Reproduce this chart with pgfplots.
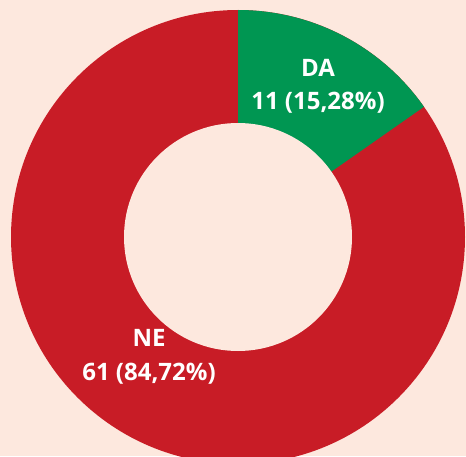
\documentclass[border=0pt]{standalone}
\usepackage{pgfplots}
\pgfplotsset{compat=1.18}
\usepackage{pgfplotstable}
\usepackage{fontspec}
\setmainfont{Open Sans}

\definecolor{bgpeach}{HTML}{FDE8DE}
\definecolor{nered}{HTML}{C81C26}
\definecolor{dagreen}{HTML}{009652}

% answers: label, count
\pgfplotstableread[col sep=comma]{
label,value
DA,11
NE,61
}\votes

\begin{document}
\begin{tikzpicture}
\pgfplotstablegetelem{0}{value}\of\votes \let\vda\pgfplotsretval
\pgfplotstablegetelem{1}{value}\of\votes \let\vne\pgfplotsretval
\pgfmathsetmacro{\tot}{\vda+\vne}
\pgfmathsetmacro{\aend}{90-360*\vda/\tot}
\begin{axis}[
  x=1pt, y=1pt,
  xmin=0, xmax=466, ymin=0, ymax=456,
  hide axis, clip=true,
]
\def\cx{238}\def\cy{219}\def\Ro{227}\def\Ri{114}
\fill[bgpeach] (axis cs:0,0) rectangle (axis cs:466,456);
\fill[nered] (axis cs:\cx,\cy) circle[radius=\Ro pt];
\fill[dagreen] (axis cs:\cx,\cy) -- ++(90:\Ro pt)
  arc[start angle=90, end angle=\aend, radius=\Ro pt] -- cycle;
\fill[bgpeach] (axis cs:\cx,\cy) circle[radius=\Ri pt];
\node[text=white, font=\fontsize{24}{33}\selectfont\bfseries, align=center]
  at (axis cs:318,370) {DA\\11 (15,28\%)};
\node[text=white, font=\fontsize{24}{34}\selectfont\bfseries, align=center]
  at (axis cs:149,99) {NE\\61 (84,72\%)};
\end{axis}
\end{tikzpicture}
\end{document}
